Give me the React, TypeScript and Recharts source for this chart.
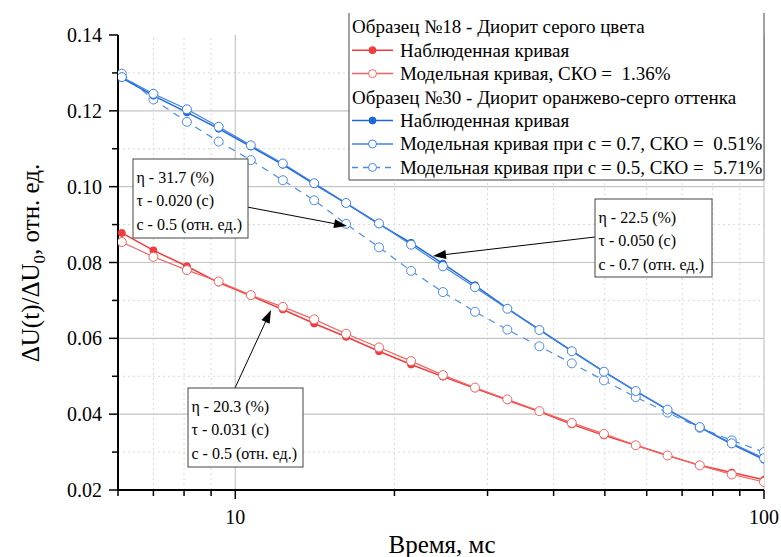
import React from "react";
import { LineChart, Line, XAxis, YAxis, ReferenceLine } from "recharts";

// time, ms (log axis)
const times = [6.1, 7.0, 8.1, 9.3, 10.7, 12.3, 14.1, 16.2, 18.7, 21.5, 24.7, 28.4, 32.7, 37.6, 43.3, 49.8, 57.2, 65.7, 75.6, 86.9, 100];

// sample 18
const redObserved = [0.0878, 0.0832, 0.079, 0.0747, 0.0712, 0.0676, 0.0639, 0.0604, 0.0566, 0.0531, 0.0499, 0.0468, 0.0437, 0.0407, 0.0373, 0.0344, 0.0318, 0.0291, 0.0265, 0.0246, 0.0227];
const redModel = [0.0854, 0.0815, 0.078, 0.075, 0.0714, 0.0683, 0.065, 0.0612, 0.0576, 0.054, 0.0503, 0.047, 0.0439, 0.0408, 0.0377, 0.0348, 0.0318, 0.0291, 0.0265, 0.0241, 0.0221];

// sample 30
const blueObserved = [0.1287, 0.124, 0.1196, 0.1153, 0.1106, 0.1058, 0.1007, 0.0956, 0.0901, 0.0852, 0.0797, 0.074, 0.0679, 0.0623, 0.0567, 0.0512, 0.0461, 0.0412, 0.0365, 0.0321, 0.028];
const blueModel07 = [0.1289, 0.1245, 0.1204, 0.1158, 0.1109, 0.1061, 0.1009, 0.0957, 0.0903, 0.0847, 0.079, 0.0735, 0.0678, 0.0622, 0.0566, 0.0512, 0.0461, 0.0412, 0.0366, 0.0323, 0.0284];
const blueModel05 = [0.1298, 0.123, 0.1171, 0.1119, 0.107, 0.1017, 0.0964, 0.0902, 0.084, 0.0778, 0.0722, 0.067, 0.0623, 0.0579, 0.0534, 0.0489, 0.0445, 0.0404, 0.0364, 0.0331, 0.03];

const xMajor = [10, 100];
const xMinor = [6, 7, 8, 9, 20, 30, 40, 50, 60, 70, 80, 90];
const yMajor = [0.02, 0.04, 0.06, 0.08, 0.1, 0.12, 0.14];
const yMinor = [0.03, 0.05, 0.07, 0.09, 0.11, 0.13];

const data = times.map((t, i) => ({
  t,
  redObserved: redObserved[i],
  redModel: redModel[i],
  blueObserved: blueObserved[i],
  blueModel07: blueModel07[i],
  blueModel05: blueModel05[i],
}));

const FONT = "Liberation Serif, DejaVu Serif, serif";
const RED = "#f03c3c";
const RED_M = "#f26464";
const BLUE = "#1f66d9";
const BLUE_M = "#3c80e8";
const BLUE_D = "#4a8bea";

function XTick({ x, y, payload }: any) {
  const major = xMajor.includes(payload.value);
  return (
    <g>
      <line x1={x} y1={y} x2={x} y2={y + (major ? 9 : 6)} stroke="#000" strokeWidth={1.5} />
      {major && (
        <text x={x} y={y + 34} textAnchor="middle" fontSize={20} style={{ fontFamily: FONT }} fill="#000">
          {payload.value}
        </text>
      )}
    </g>
  );
}

function YTick({ x, y, payload }: any) {
  const v = payload.value as number;
  const major = yMajor.some((m) => Math.abs(m - v) < 1e-6);
  return (
    <g>
      <line x1={x - (major ? 9 : 6)} y1={y} x2={x} y2={y} stroke="#000" strokeWidth={1.5} />
      {major && (
        <text x={x - 16} y={y + 7} textAnchor="end" fontSize={20} style={{ fontFamily: FONT }} fill="#000">
          {v.toFixed(2)}
        </text>
      )}
    </g>
  );
}

const legendRows = [
  { kind: "head", text: "Образец №18 - Диорит серого цвета" },
  { kind: "item", text: "Наблюденная кривая", color: RED, filled: true, dash: false },
  { kind: "item", text: "Модельная кривая, СКО =\u00a0 1.36%", color: RED_M, filled: false, dash: false },
  { kind: "head", text: "Образец №30 - Диорит оранжево-серго оттенка" },
  { kind: "item", text: "Наблюденная кривая", color: BLUE, filled: true, dash: false },
  { kind: "item", text: "Модельная кривая при с = 0.7, СКО =\u00a0 0.51%", color: BLUE_M, filled: false, dash: false },
  { kind: "item", text: "Модельная кривая при с = 0.5, СКО =\u00a0 5.71%", color: BLUE_D, filled: false, dash: true },
];

const notes = [
  { box: [133, 159, 115, 79], lines: ["η - 31.7 (%)", "τ - 0.020 (с)", "с - 0.5 (отн. ед.)"], from: [247, 207], to: [347, 226] },
  { box: [595, 199, 117, 78], lines: ["η - 22.5 (%)", "τ - 0.050 (с)", "с - 0.7 (отн. ед.)"], from: [595, 237], to: [433, 256] },
  { box: [188, 388, 115, 79], lines: ["η - 20.3 (%)", "τ - 0.031 (с)", "с - 0.5 (отн. ед.)"], from: [235, 388], to: [271, 310] },
];

function Arrow({ from, to }: { from: number[]; to: number[] }) {
  const dx = to[0] - from[0];
  const dy = to[1] - from[1];
  const len = Math.hypot(dx, dy);
  const ux = dx / len;
  const uy = dy / len;
  const L = 13;
  const W = 4.5;
  const bx = to[0] - ux * L;
  const by = to[1] - uy * L;
  return (
    <g>
      <line x1={from[0]} y1={from[1]} x2={bx} y2={by} stroke="#000" strokeWidth={1} />
      <polygon
        points={`${to[0]},${to[1]} ${bx - uy * W},${by + ux * W} ${bx + uy * W},${by - ux * W}`}
        fill="#000"
      />
    </g>
  );
}

function Overlay() {
  return (
    <svg width={781} height={557} style={{ position: "absolute", left: 0, top: 0, pointerEvents: "none", fontFamily: FONT }}>
      {/* legend */}
      <rect x={349} y={13} width={415} height={167} fill="#fff" />
      <path d="M349,13 V180 H764 V13" fill="none" stroke="#444" strokeWidth={1} />
      {legendRows.map((r, i) => {
        const cy = 26.7 + i * 23.45;
        if (r.kind === "head") {
          return (
            <text key={i} x={352} y={cy + 6.5} fontSize={19} fill="#000">
              {r.text}
            </text>
          );
        }
        return (
          <g key={i}>
            <line x1={352} y1={cy} x2={393} y2={cy} stroke={r.color} strokeWidth={1.5} strokeDasharray={r.dash ? "6 5" : undefined} />
            <circle cx={372.5} cy={cy} r={r.filled ? 3.5 : 4} fill={r.filled ? r.color : "#fff"} stroke={r.color} strokeWidth={1} />
            <text x={400} y={cy + 6.5} fontSize={19} fill="#000">
              {r.text}
            </text>
          </g>
        );
      })}
      {/* annotations */}
      {notes.map((n, i) => (
        <g key={i}>
          <Arrow from={n.from} to={n.to} />
          <rect x={n.box[0]} y={n.box[1]} width={n.box[2]} height={n.box[3]} fill="#fff" stroke="#444" strokeWidth={1} />
          {n.lines.map((s, j) => (
            <text key={j} x={n.box[0] + 3.5} y={n.box[1] + 23.5 + j * 23.5} fontSize={16} fill="#000">
              {s}
            </text>
          ))}
        </g>
      ))}
      {/* axis titles */}
      <text x={442} y={553} textAnchor="middle" fontSize={25} fill="#000">
        Время, мс
      </text>
      <text transform="translate(39,263) rotate(-90)" textAnchor="middle" fontSize={25} fill="#000">
        ΔU(t)/ΔU<tspan fontSize={17} dy={6}>0</tspan>
        <tspan dy={-6}>, отн. ед.</tspan>
      </text>
    </svg>
  );
}

export default function App() {
  return (
    <div style={{ position: "absolute", left: 0, top: 0, width: 781, height: 557, background: "#fff", fontFamily: FONT }}>
      <LineChart width={781} height={557} data={data} margin={{ top: 35, right: 17, left: 18, bottom: 37 }}>
        {yMinor.map((v) => (
          <ReferenceLine key={"ym" + v} y={v} stroke="#d9d9d9" strokeDasharray="2 3" />
        ))}
        {xMinor.filter((v) => v > 6).map((v) => (
          <ReferenceLine key={"xm" + v} x={v} stroke="#d9d9d9" strokeDasharray="2 3" />
        ))}
        {yMajor.filter((v) => v > 0.021 && v < 0.139).map((v) => (
          <ReferenceLine key={"yM" + v} y={v} stroke="#c4c4c4" strokeWidth={1.2} />
        ))}
        {xMajor.map((v) => (
          <ReferenceLine key={"xM" + v} x={v} stroke="#c4c4c4" strokeWidth={1.2} />
        ))}
        <XAxis
          dataKey="t"
          type="number"
          scale="log"
          domain={[6, 100]}
          allowDataOverflow
          ticks={[...xMinor, ...xMajor].sort((a, b) => a - b)}
          interval={0}
          tick={<XTick />}
          tickSize={0}
          tickMargin={0}
          height={30}
          axisLine={{ stroke: "#000", strokeWidth: 2 }}
          tickLine={false}
        />
        <YAxis
          type="number"
          domain={[0.02, 0.14]}
          allowDataOverflow
          ticks={[...yMinor, ...yMajor].sort((a, b) => a - b)}
          interval={0}
          tick={<YTick />}
          tickSize={0}
          tickMargin={0}
          width={100}
          axisLine={{ stroke: "#000", strokeWidth: 2 }}
          tickLine={false}
        />
        <Line dataKey="redObserved" type="linear" stroke={RED} strokeWidth={1.5} dot={{ r: 3.5, fill: RED, stroke: RED, strokeWidth: 1 }} activeDot={false} isAnimationActive={false} />
        <Line dataKey="redModel" type="linear" stroke={RED_M} strokeWidth={1.2} dot={{ r: 4.5, fill: "#fff", stroke: RED_M, strokeWidth: 1 }} activeDot={false} isAnimationActive={false} />
        <Line dataKey="blueModel05" type="linear" stroke={BLUE_D} strokeWidth={1.2} strokeDasharray="7 6" dot={{ r: 4.5, fill: "#fff", stroke: BLUE_D, strokeWidth: 1, strokeDasharray: "" }} activeDot={false} isAnimationActive={false} />
        <Line dataKey="blueObserved" type="linear" stroke={BLUE} strokeWidth={1.5} dot={{ r: 3.5, fill: BLUE, stroke: BLUE, strokeWidth: 1 }} activeDot={false} isAnimationActive={false} />
        <Line dataKey="blueModel07" type="linear" stroke={BLUE_M} strokeWidth={1.2} dot={{ r: 4.5, fill: "#fff", stroke: BLUE_M, strokeWidth: 1 }} activeDot={false} isAnimationActive={false} />
      </LineChart>
      <Overlay />
    </div>
  );
}
